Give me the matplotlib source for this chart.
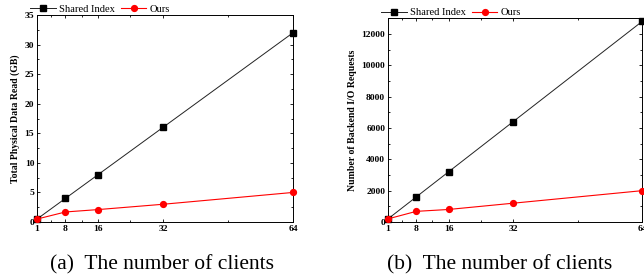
import matplotlib.pyplot as plt
from matplotlib.ticker import FixedLocator

clients = [1, 8, 16, 32, 64]
read_shared = [0.5, 4, 8, 16, 32]
read_ours = [0.5, 1.7, 2.1, 3.0, 5.0]
req_shared = [200, 1600, 3200, 6400, 12800]
req_ours = [200, 680, 800, 1200, 2000]

plt.rcParams['font.family'] = ['Liberation Serif', 'DejaVu Serif']

fig = plt.figure(figsize=(6.44, 2.78), dpi=100)
ax1 = fig.add_axes([0.0575, 0.2014, 0.3975, 0.7446])
ax2 = fig.add_axes([0.6025, 0.2014, 0.3945, 0.7326])


def style(ax, sh, ou, ylabel, ylim, ymajor, yminor):
    ax.plot(clients, sh, color='#222222', lw=0.7, marker='s', ms=3.8,
            mfc='black', mec='black', label='Shared Index', clip_on=False)
    ax.plot(clients, ou, color='red', lw=0.8, marker='o', ms=4.2,
            label='Ours', clip_on=False, zorder=3)
    ax.set_xlim(1, 64)
    ax.set_ylim(*ylim)
    ax.set_xticks(clients)
    ax.xaxis.set_minor_locator(FixedLocator([4.5, 12, 24, 48]))
    ax.set_yticks(ymajor)
    ax.yaxis.set_minor_locator(FixedLocator(yminor))
    ax.tick_params(which='both', direction='in', top=True, right=True,
                   labelsize=6.8, pad=2, width=0.6)
    ax.tick_params(which='major', length=2.5)
    ax.tick_params(which='minor', length=1.5)
    for lab in ax.get_xticklabels() + ax.get_yticklabels():
        lab.set_fontweight('bold')
    for s in ax.spines.values():
        s.set_linewidth(0.7)
    ax.set_ylabel(ylabel, fontsize=7, fontweight='bold', labelpad=3)
    ax.legend(loc='lower left', bbox_to_anchor=(-0.03, 1.0), ncol=2,
              frameon=False, fontsize=7.6, handlelength=2.4, handletextpad=0.3,
              columnspacing=0.6, borderaxespad=0, borderpad=0.1)


style(ax1, read_shared, read_ours, 'Total Physical Data Read (GB)', (0, 35),
      range(0, 36, 5), [2.5 + 5 * i for i in range(7)])
style(ax2, req_shared, req_ours, 'Number of Backend I/O Requests', (0, 13000),
      range(0, 12001, 2000), [1000 + 2000 * i for i in range(7)])

fig.text(0.251, 0.029, '(a)  The number of clients', ha='center',
         va='baseline', fontsize=15.5)
fig.text(0.776, 0.029, '(b)  The number of clients', ha='center',
         va='baseline', fontsize=15.5)

fig.savefig('out.png', dpi=100)
